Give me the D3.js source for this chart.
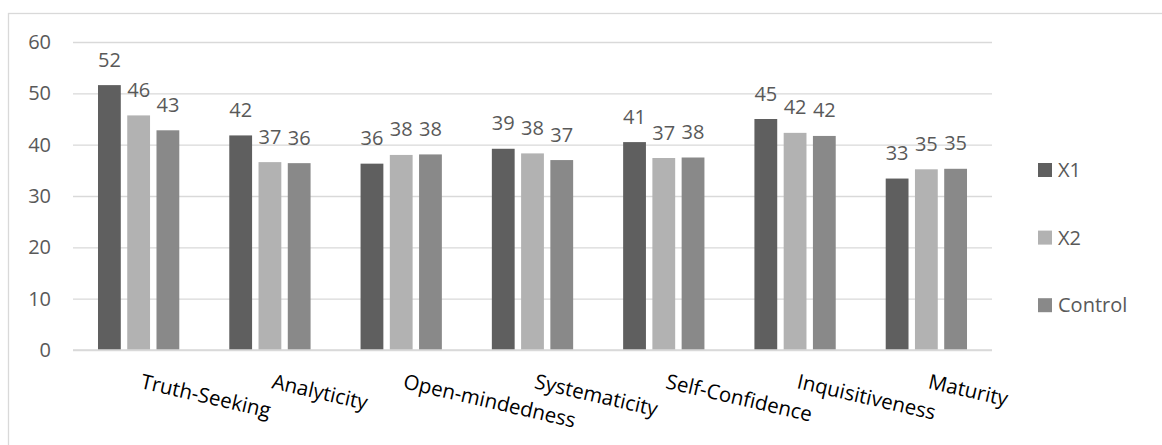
<!DOCTYPE html>
<html>
<head>
<meta charset="utf-8">
<script src="https://cdn.jsdelivr.net/npm/d3@7"></script>
<style>
  html, body { margin: 0; padding: 0; background: #fff; }
  svg { display: block; }
  text { font-family: "Open Sans", "Noto Sans", sans-serif; fill: #595959; }
</style>
</head>
<body>
<svg id="chart" width="1162" height="445"></svg>
<script>
// Critical-thinking disposition subscale means per group
const categories = ["Truth-Seeking", "Analyticity", "Open-mindedness", "Systematicity",
                    "Self-Confidence", "Inquisitiveness", "Maturity"];
const seriesNames = ["X1", "X2", "Control"];
const x1Values      = [51.6, 41.8, 36.3, 39.2, 40.5, 45.0, 33.4];
const x2Values      = [45.7, 36.6, 38.0, 38.3, 37.4, 42.3, 35.2];
const controlValues = [42.8, 36.4, 38.1, 37.0, 37.5, 41.7, 35.3];
const yTicks = [0, 10, 20, 30, 40, 50, 60];

const seriesValues = [x1Values, x2Values, controlValues];
const colors = ["#5f5f5f", "#b2b2b2", "#898989"];
const fontSize = 20;

const svg = d3.select("#chart");

// outer frame
svg.append("rect")
  .attr("x", 8.5).attr("y", 13.5)
  .attr("width", 1200).attr("height", 500)
  .attr("fill", "none").attr("stroke", "#d9d9d9").attr("stroke-width", 1.3);

const plot = { left: 73, right: 992, top: 42, bottom: 350 };

const x0 = d3.scaleBand().domain(categories).range([plot.left, plot.right]).padding(0);
const y = d3.scaleLinear().domain([0, 60]).range([plot.bottom, plot.top]);

// series offsets inside each category
const step = 29.25, barW = 22.8;
const x1 = d3.scaleBand().domain(seriesNames)
  .range([-step * 1.5, step * 1.5]).paddingInner(1 - barW / step).paddingOuter((1 - barW / step) / 2);

// gridlines
const yAxis = d3.axisLeft(y).tickValues(yTicks).tickSize(-(plot.right - plot.left)).tickPadding(22);
const gy = svg.append("g").attr("transform", `translate(${plot.left},0)`).call(yAxis);
gy.select(".domain").remove();
gy.selectAll(".tick line").attr("stroke", "#d9d9d9").attr("stroke-width", 1.3);
gy.selectAll(".tick text").attr("font-size", fontSize).attr("fill", "#595959")
  .style("font-family", "'Open Sans', sans-serif");

// bars
const groups = svg.append("g").selectAll("g")
  .data(categories)
  .join("g")
  .attr("transform", d => `translate(${x0(d) + x0.bandwidth() / 2},0)`);

groups.each(function (cat, ci) {
  const g = d3.select(this);
  seriesNames.forEach((s, si) => {
    const v = seriesValues[si][ci];
    g.append("rect")
      .attr("x", x1(s))
      .attr("y", y(v))
      .attr("width", x1.bandwidth())
      .attr("height", y(0) - y(v))
      .attr("fill", colors[si]);
    g.append("text")
      .attr("x", x1(s) + x1.bandwidth() / 2)
      .attr("y", y(v) - 18.5)
      .attr("text-anchor", "middle")
      .attr("font-size", fontSize)
      .text(d3.format(".0f")(v));
  });
});

// baseline
svg.append("line")
  .attr("x1", plot.left).attr("x2", plot.right)
  .attr("y1", y(0)).attr("y2", y(0))
  .attr("stroke", "#d9d9d9").attr("stroke-width", 1.5);

// category labels, slanted
svg.append("g").selectAll("text")
  .data(categories)
  .join("text")
  .attr("transform", d => `translate(${x0(d) + x0.bandwidth() / 2 + 1},${388}) rotate(13)`)
  .attr("text-anchor", "start")
  .attr("font-size", 20.5)
  .style("fill", "#000")
  .text(d => d);

// legend
const legend = svg.append("g").selectAll("g")
  .data(seriesNames)
  .join("g")
  .attr("transform", (d, i) => `translate(1038,${170 + i * 67.6})`);
legend.append("rect")
  .attr("x", 0).attr("y", -7).attr("width", 14).attr("height", 14)
  .attr("fill", (d, i) => colors[i]);
legend.append("text")
  .attr("x", 20).attr("y", 0).attr("dy", "0.35em")
  .attr("font-size", fontSize)
  .text(d => d);
</script>
</body>
</html>
